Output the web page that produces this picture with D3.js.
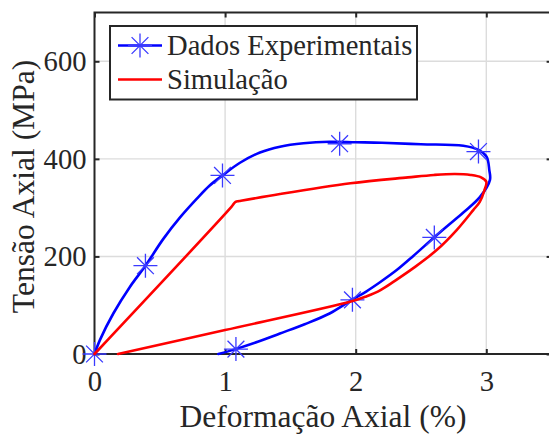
<!DOCTYPE html>
<html>
<head>
<meta charset="utf-8">
<script src="https://cdn.jsdelivr.net/npm/d3@7"></script>
<style>
  html, body { margin: 0; padding: 0; background: #fff; }
  svg { display: block; }
</style>
</head>
<body>
<svg id="chart" width="549" height="437"></svg>
<script>
// Experimental hysteresis loop (strain %, stress MPa)
const strainExp = [0, 0.042, 0.144, 0.272, 0.39, 0.527, 0.655, 0.782, 0.88, 0.98, 1.114, 1.267, 1.42, 1.6, 1.8, 2.0, 2.2, 2.5, 2.824, 2.944, 3.003, 3.023, 3.028, 2.952, 2.824, 2.7, 2.6, 2.441, 2.314, 2.186, 2.08, 1.971, 1.8, 1.609, 1.42, 1.25, 1.08, 0.948];
const stressExp = [0, 29, 83, 138, 181, 236, 280, 318, 345, 366, 392, 413, 425, 432, 435, 434, 433, 430, 427, 418, 404, 377, 357, 322, 290, 262, 239, 201, 172, 147, 128, 111, 83, 61, 42, 25, 10, 0];

// Marker positions on the experimental curve
const markerStrain = [0, 0.39, 0.98, 1.877, 2.94, 2.602, 1.975, 1.083];
const markerStress = [0, 181, 366, 431, 415, 239, 111, 10];

// Simulated loop: elastic ramp, hardening branch, unloading branch
const strainSim = [0, 1.05, 1.08, 1.11, 1.42, 1.96, 2.4, 2.6, 2.76, 2.88, 2.96, 3.0, 2.985, 2.95, 2.9, 2.773, 2.62, 2.441, 2.3, 2.19, 2.08, 1.97, 1.0, 0.18];
const stressSim = [0, 302, 312, 313.5, 328, 350, 362, 367, 369, 367, 362, 353, 335, 312, 295, 254, 213, 176, 150, 131, 118, 108, 49, 0];

const xTicks = [0, 1, 2, 3];
const yTicks = [0, 200, 400, 600];

const seriesNames = ["Dados Experimentais", "Simulação"];
const xLabel = "Deformação Axial (%)";
const yLabel = "Tensão Axial (MPa)";

const svg = d3.select("#chart");
const font = "'Liberation Serif', 'Times New Roman', serif";
const ink = "#262626";

const x = d3.scaleLinear().domain([0, 3.5]).range([94.5, 551.6]);
const y = d3.scaleLinear().domain([0, 700]).range([354, 12.5]);

// grid
const grid = svg.append("g").attr("stroke", "#dcdcdc").attr("stroke-width", 1.4);
grid.selectAll(".gx").data(xTicks.filter(d => d > 0)).join("line")
  .attr("x1", d => x(d)).attr("x2", d => x(d))
  .attr("y1", y(0)).attr("y2", y(700));
grid.selectAll(".gy").data(yTicks.filter(d => d > 0)).join("line")
  .attr("y1", d => y(d)).attr("y2", d => y(d))
  .attr("x1", x(0)).attr("x2", x(3.5));

// axes
function styleAxis(g) {
  g.select(".domain").remove();
  g.selectAll(".tick line").attr("stroke", ink).attr("stroke-width", 2);
  g.selectAll(".tick text").attr("fill", ink)
    .attr("font-family", font).attr("font-size", "28.6px");
}
svg.append("g").attr("transform", `translate(0,${y(0)})`)
  .call(d3.axisBottom(x).tickValues(xTicks).tickFormat(d3.format("d"))
    .tickSize(-5).tickSizeOuter(0).tickPadding(17))
  .call(styleAxis);
svg.append("g").attr("transform", `translate(0,${y(700)})`)
  .call(d3.axisTop(x).tickValues(xTicks).tickFormat("").tickSize(-5).tickSizeOuter(0))
  .call(styleAxis);
svg.append("g").attr("transform", `translate(${x(0)},0)`)
  .call(d3.axisLeft(y).tickValues(yTicks).tickFormat(d3.format("d"))
    .tickSize(-5).tickSizeOuter(0).tickPadding(8))
  .call(styleAxis);
svg.append("g").attr("transform", `translate(${x(3.5)},0)`)
  .call(d3.axisRight(y).tickValues(yTicks).tickFormat("").tickSize(-5).tickSizeOuter(0))
  .call(styleAxis);

svg.append("rect")
  .attr("x", x(0)).attr("y", y(700))
  .attr("width", x(3.5) - x(0)).attr("height", y(0) - y(700))
  .attr("fill", "none").attr("stroke", ink).attr("stroke-width", 2);

// axis labels
svg.append("text")
  .attr("x", 323).attr("y", 427)
  .attr("text-anchor", "middle")
  .attr("font-family", font).attr("font-size", "31.5px").attr("fill", ink)
  .text(xLabel);
svg.append("text")
  .attr("transform", "translate(33.5,186.5) rotate(-90)")
  .attr("text-anchor", "middle")
  .attr("font-family", font).attr("font-size", "31.5px").attr("fill", ink)
  .text(yLabel);

// curves
const line = d3.line()
  .x(d => x(d[0])).y(d => y(d[1]))
  .curve(d3.curveCatmullRom.alpha(0.5));

const expPts = strainExp.map((s, i) => [s, stressExp[i]]);
const simPts = strainSim.map((s, i) => [s, stressSim[i]]);
const markPts = markerStrain.map((s, i) => [s, markerStress[i]]);

const blue = "#0000ff";
const red = "#ff0000";
const markColor = "#3a3aff";

function starPath(r) {
  const d = r * 0.7;
  return `M${-r},0L${r},0M0,${-r}L0,${r}M${-d},${-d}L${d},${d}M${-d},${d}L${d},${-d}`;
}

svg.append("path").datum(expPts)
  .attr("d", line).attr("fill", "none")
  .attr("stroke", blue).attr("stroke-width", 2.6)
  .attr("stroke-linejoin", "round").attr("stroke-linecap", "round");

svg.append("g").selectAll("path").data(markPts).join("path")
  .attr("transform", d => `translate(${x(d[0])},${y(d[1])})`)
  .attr("d", starPath(12))
  .attr("fill", "none").attr("stroke", markColor).attr("stroke-width", 1.3);

svg.append("path").datum(simPts)
  .attr("d", line).attr("fill", "none")
  .attr("stroke", red).attr("stroke-width", 2.6)
  .attr("stroke-linejoin", "round").attr("stroke-linecap", "round");

// legend
const legend = svg.append("g");
legend.append("rect")
  .attr("x", 110).attr("y", 26).attr("width", 307).attr("height", 73.5)
  .attr("fill", "#fff").attr("stroke", ink).attr("stroke-width", 2);
const rows = [
  { name: seriesNames[0], color: blue, cy: 45.5, star: true, base: 55 },
  { name: seriesNames[1], color: red, cy: 79.5, star: false, base: 88.5 }
];
rows.forEach(r => {
  legend.append("line")
    .attr("x1", 118).attr("x2", 162).attr("y1", r.cy).attr("y2", r.cy)
    .attr("stroke", r.color).attr("stroke-width", 2.6);
  if (r.star) {
    legend.append("path")
      .attr("transform", `translate(140,${r.cy})`)
      .attr("d", starPath(12))
      .attr("fill", "none").attr("stroke", markColor).attr("stroke-width", 1.3);
  }
  legend.append("text")
    .attr("x", 167).attr("y", r.base)
    .attr("font-family", font).attr("font-size", "28.6px").attr("fill", ink)
    .text(r.name);
});
</script>
</body>
</html>
